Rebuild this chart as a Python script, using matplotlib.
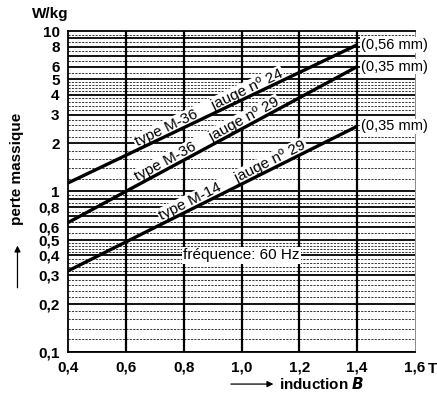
import numpy as np
import matplotlib.pyplot as plt

plt.rcParams['font.family'] = ['Liberation Sans', 'DejaVu Sans']

# induction B [T] and loss [W/kg] at the two ends of each curve
induction = [0.4, 1.4]
loss_m36_24 = [1.13, 8.2]
loss_m36_29 = [0.64, 6.0]
loss_m14_29 = [0.32, 2.55]

curve_labels = ['type M-36    jauge nº 24', 'type M-36    jauge nº 29', 'type M-14    jauge nº 29']
end_labels = ['(0,56 mm)', '(0,35 mm)', '(0,35 mm)']
label_start = [0.645, 0.645, 0.73]

x_ticks = [0.4, 0.6, 0.8, 1.0, 1.2, 1.4, 1.6]
x_ticklabels = ['0,4', '0,6', '0,8', '1,0', '1,2', '1,4', '1,6']
y_ticks = [0.1, 0.2, 0.3, 0.4, 0.5, 0.6, 0.8, 1, 2, 3, 4, 5, 6, 8, 10]
y_ticklabels = ['0,1', '0,2', '0,3', '0,4', '0,5', '0,6', '0,8', '1', '2', '3', '4', '5', '6', '8', '10']

fig = plt.figure(figsize=(4.37, 3.98), dpi=100)
ax = fig.add_axes([0.1556, 0.1156, 0.7941, 0.8065])
ax.set_yscale('log')
ax.set_xlim(0.4, 1.6)
ax.set_ylim(0.1, 10)

# grid: solid on each unit of the decade, dashed in between
solid_levels = [d * k for d in (0.1, 1) for k in range(1, 10)]
dashed_levels = []
for d in (0.1, 1):
    dashed_levels += [d * v for v in np.arange(1.2, 5.0, 0.2) if abs(v - round(v)) > 0.01]
    dashed_levels += [d * v for v in (5.5, 6.5, 7.5, 8.5, 9.5)]
for v in dashed_levels:
    ax.axhline(v, color='#333333', lw=0.7, ls=(0, (2.2, 1.3)), zorder=1)
for v in solid_levels:
    ax.axhline(v, color='black', lw=1.3, zorder=1.5)
for v in x_ticks[1:-1]:
    ax.axvline(v, color='black', lw=1.6, zorder=1.5)

curves = [loss_m36_24, loss_m36_29, loss_m14_29]
for vals, lab, end, xs in zip(curves, curve_labels, end_labels, label_start):
    ax.plot(induction, vals, color='black', lw=2.4, zorder=4, solid_capstyle='butt')
    p0 = ax.transData.transform((induction[0], vals[0]))
    p1 = ax.transData.transform((induction[1], vals[1]))
    ang = np.degrees(np.arctan2(p1[1] - p0[1], p1[0] - p0[0]))
    frac = (xs - induction[0]) / (induction[1] - induction[0])
    ys = 10 ** (np.log10(vals[0]) + frac * (np.log10(vals[1]) - np.log10(vals[0])))
    ax.text(xs, ys, lab, rotation=ang, rotation_mode='anchor', ha='left', va='bottom',
            fontsize=11, zorder=3,
            bbox=dict(facecolor='white', edgecolor='none', pad=1.0))
    ax.text(induction[1] + 0.012, vals[1], end, ha='left', va='center', fontsize=10.5,
            zorder=3, bbox=dict(facecolor='white', edgecolor='none', pad=0.5))

ax.text(1.0, 0.4, 'fréquence: 60 Hz', ha='center', va='center', fontsize=11, zorder=3,
        bbox=dict(facecolor='white', edgecolor='none', pad=1.0))

ax.set_xticks(x_ticks)
ax.set_xticklabels(x_ticklabels, fontweight='bold', fontsize=11)
ax.set_yticks(y_ticks)
ax.set_yticklabels(y_ticklabels, fontweight='bold', fontsize=11)
ax.minorticks_off()
ax.tick_params(length=0, pad=6)
for s in ('left', 'bottom', 'top'):
    ax.spines[s].set_linewidth(1.3)
ax.spines['right'].set_linewidth(0.6)
ax.spines['right'].set_color('#777777')

fig.text(0.979, 0.0735, 'T', ha='left', va='center', fontsize=11, fontweight='bold')
fig.text(0.114, 0.965, 'W/kg', ha='center', va='center', fontsize=11, fontweight='bold')

# axis titles with arrows
fig.text(0.638, 0.035, 'induction $\\mathbfit{B}$', ha='left', va='center',
         fontsize=11, fontweight='bold')
ax.annotate('', xy=(0.632, 0.035), xytext=(0.522, 0.035), xycoords='figure fraction',
            arrowprops=dict(arrowstyle='-|>', color='black', lw=0.9, mutation_scale=9))
fig.text(0.04, 0.575, 'perte massique', ha='center', va='center', rotation=90,
         fontsize=11, fontweight='bold')
ax.annotate('', xy=(0.04, 0.39), xytext=(0.04, 0.27), xycoords='figure fraction',
            arrowprops=dict(arrowstyle='-|>', color='black', lw=0.9, mutation_scale=9))

fig.savefig('out.png', dpi=100)
